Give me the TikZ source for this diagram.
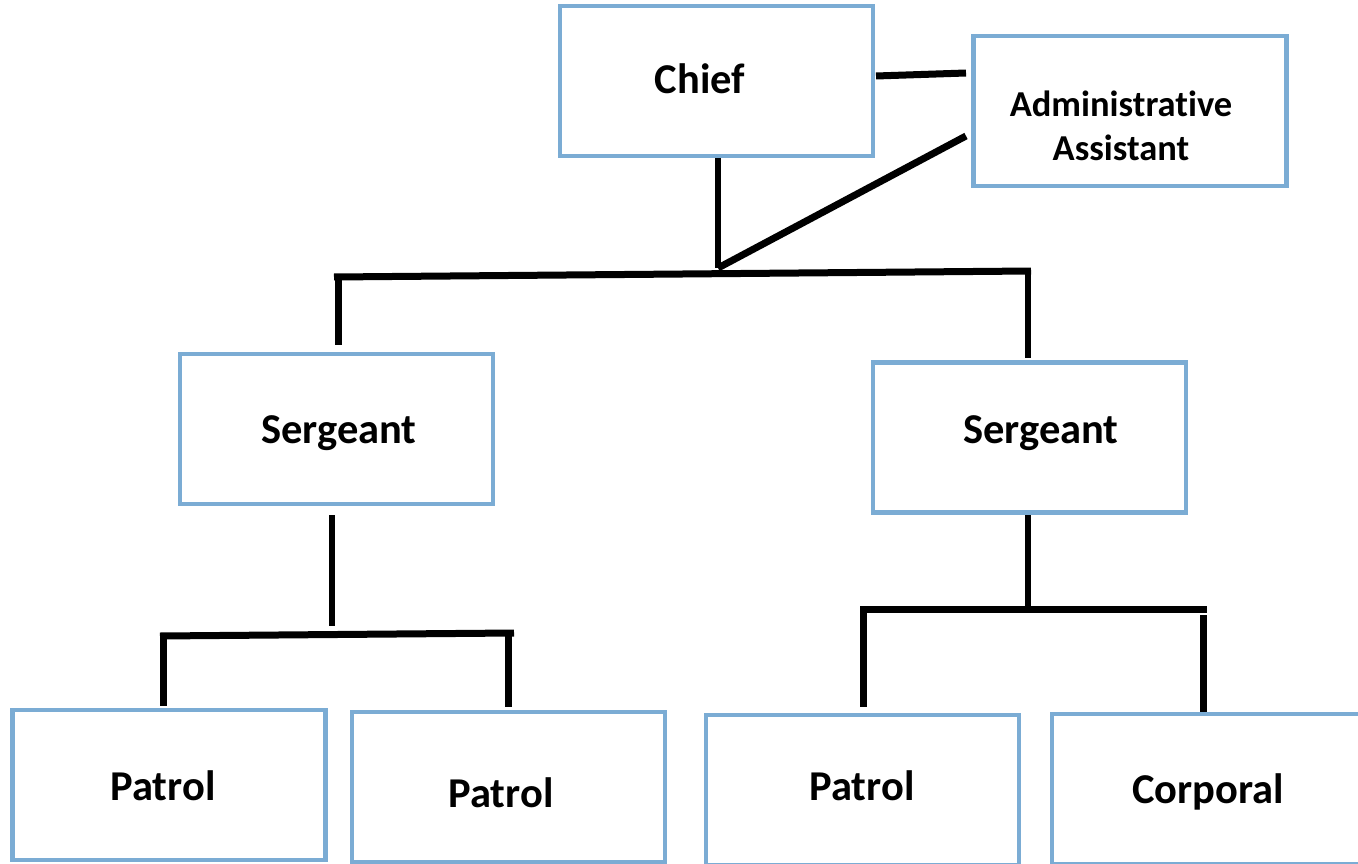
\documentclass[tikz,border=0pt]{standalone}
\usepackage{fontspec}
\setmainfont{Carlito}[Ligatures=NoCommon]
\definecolor{boxblue}{HTML}{7BACD4}
\tikzset{
  orgbox/.style={draw=boxblue, line width=4.5pt, minimum width=313pt, minimum height=150pt, inner sep=0pt, fill=white},
  lbl/.style={font=\fontsize{42.5}{50}\selectfont\bfseries, inner sep=0pt, align=center},
  smalllbl/.style={font=\fontsize{36.5}{44}\selectfont\bfseries, inner sep=0pt, align=center},
  conn/.style={draw=black, line width=7pt, line cap=butt}
}
\begin{document}
\begin{tikzpicture}[x=1pt,y=-1pt]
\clip (0,0) rectangle (1358,864);
\fill[white] (0,0) rectangle (1358,864);
% boxes
\node[orgbox] (chief) at (716.5,81) {};
\node[orgbox] (admin) at (1130,111) {};
\node[orgbox] (sgtL) at (336.5,429) {};
\node[orgbox] (sgtR) at (1029.5,437.5) {};
\node[orgbox] (p1) at (169,785) {};
\node[orgbox] (p2) at (508.5,787) {};
\node[orgbox] (p3) at (862.5,790) {};
\node[orgbox] (corp) at (1208.5,789) {};
% labels
\node[lbl] (tchief) at (700,79) {Chief};
\node[smalllbl] (tadmin) at (1121,126) {Administrative\\Assistant};
\node[lbl] (tsgtL) at (339,433) {Sergeant};
\node[lbl] (tsgtR) at (1041,433) {Sergeant};
\node[lbl] (tp1) at (163,786) {Patrol};
\node[lbl] (tp2) at (501,793) {Patrol};
\node[lbl] (tp3) at (862,786) {Patrol};
\node[lbl] (tcorp) at (1208,792) {Corporal};
% junction coordinates
\coordinate (ca1) at (876,76);
\coordinate (ca2) at (966,73);
\coordinate (ad1) at (966,136);
\coordinate (cv1) at (718,158);
\coordinate (jtop) at (718,268);
\coordinate (hL) at (334,277);
\coordinate (hR) at (1031,271);
\coordinate (dL) at (338,345);
\coordinate (dR) at (1028,358);
\coordinate (sL1) at (332,515);
\coordinate (sL2) at (332,626);
\coordinate (bL1) at (160,636);
\coordinate (bL2) at (514,633);
\coordinate (bL3) at (163,706);
\coordinate (bL4) at (508,707);
\coordinate (sR1) at (1028,515);
\coordinate (sR2) at (1028,607);
\coordinate (bR1) at (862,609);
\coordinate (bR2) at (1207,609);
\coordinate (bR3) at (863,707);
\coordinate (bR4) at (1203,712);
% connectors
\draw[conn] (ca1) -- (ca2);
\draw[conn] (ad1) -- (jtop);
\draw[conn, line width=6pt] (cv1) -- (jtop);
\draw[conn] (hL) -- (hR);
\draw[conn] (338,274) -- (dL);
\draw[conn, line width=6pt] (1028,268) -- (dR);
\draw[conn, line width=6pt] (sL1) -- (sL2);
\draw[conn] (bL1) -- (bL2);
\draw[conn] (163,633) -- (bL3);
\draw[conn] (508,631) -- (bL4);
\draw[conn, line width=6pt] (sR1) -- (sR2);
\draw[conn] (bR1) -- (bR2);
\draw[conn] (863,606) -- (bR3);
\draw[conn] (1203,615) -- (bR4);
\end{tikzpicture}
\end{document}
